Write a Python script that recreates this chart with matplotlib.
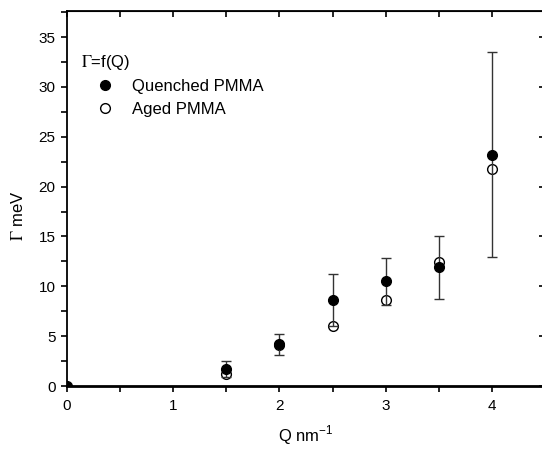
import matplotlib
matplotlib.use("Agg")
import matplotlib.pyplot as plt
from matplotlib.ticker import MultipleLocator
from matplotlib.lines import Line2D

plt.rcParams['font.family'] = ['Liberation Sans', 'DejaVu Sans']
plt.rcParams['mathtext.fontset'] = 'stix'

# Data
q_quenched = [0.0, 1.5, 2.0, 2.5, 3.0, 3.5, 4.0]
g_quenched = [0.0, 1.7, 4.2, 8.6, 10.5, 11.9, 23.2]
err_quenched = [0.0, 0.8, 1.05, 2.6, 2.35, 3.15, 10.3]

q_aged = [1.5, 2.0, 2.5, 3.0, 3.5, 4.0]
g_aged = [1.2, 4.1, 6.0, 8.6, 12.4, 21.8]

W, H = 542, 450
fig = plt.figure(figsize=(W/100, H/100), dpi=100)
left_px, right_px, bottom_px, top_px = 66.5, 545.5, 386, 11
ax = fig.add_axes([left_px/W, 1 - bottom_px/H, (right_px-left_px)/W, (bottom_px-top_px)/H])

ax.set_xlim(0, 4.5)
ax.set_ylim(0, (bottom_px - top_px) / 9.97)

ax.plot(q_aged, g_aged, 'o', markerfacecolor='white', markeredgecolor='black',
        markersize=7.0, markeredgewidth=1.0, zorder=2)
ax.errorbar(q_quenched, g_quenched, yerr=err_quenched, fmt='o', color='black',
            markersize=7.0, ecolor='#333333', elinewidth=1.0, capsize=3.8, capthick=1.0,
            zorder=3)

ax.xaxis.set_major_locator(MultipleLocator(1))
ax.xaxis.set_minor_locator(MultipleLocator(0.5))
ax.yaxis.set_major_locator(MultipleLocator(5))
ax.yaxis.set_minor_locator(MultipleLocator(2.5))
ax.tick_params(which='both', direction='out', length=4.5, width=1.2, labelsize=11,
               top=False, right=False)
ax.tick_params(axis='x', pad=5)
for s in ['left', 'bottom', 'top', 'right']:
    ax.spines[s].set_linewidth(1.3)
ax.spines['bottom'].set_linewidth(2.0)

# top / right inward ticks
secx = ax.secondary_xaxis('top')
secx.xaxis.set_major_locator(MultipleLocator(1))
secx.xaxis.set_minor_locator(MultipleLocator(0.5))
secx.tick_params(which='both', direction='in', length=4.5, width=1.2, labeltop=False)
secy = ax.secondary_yaxis('right')
secy.yaxis.set_major_locator(MultipleLocator(5))
secy.yaxis.set_minor_locator(MultipleLocator(2.5))
secy.tick_params(which='major', direction='in', length=5, width=1.2, labelright=False)
secy.tick_params(which='minor', direction='in', length=2.5, width=0.6, labelright=False)

ax.set_xlabel(r'Q nm$^{\mathregular{-1}}$', fontsize=12, labelpad=8)
ax.set_ylabel(r'$\Gamma$ meV', fontsize=12)
ax.yaxis.set_label_coords(-0.085, 0.453)

handles = [
    Line2D([], [], linestyle='none', marker='o', markersize=7.0,
           markerfacecolor='black', markeredgecolor='black'),
    Line2D([], [], linestyle='none', marker='o', markersize=7.0,
           markerfacecolor='white', markeredgecolor='black', markeredgewidth=1.0),
]
leg = ax.legend(handles, ['Quenched PMMA', 'Aged PMMA'],
                loc='upper left', bbox_to_anchor=(0.030, 0.889), frameon=False,
                title=r'$\Gamma$=f(Q)', title_fontsize=12, fontsize=12,
                alignment='left', handletextpad=0.16, labelspacing=0.45,
                borderaxespad=0, borderpad=0, handlelength=2.9)

fig.savefig('out.png', dpi=100)
